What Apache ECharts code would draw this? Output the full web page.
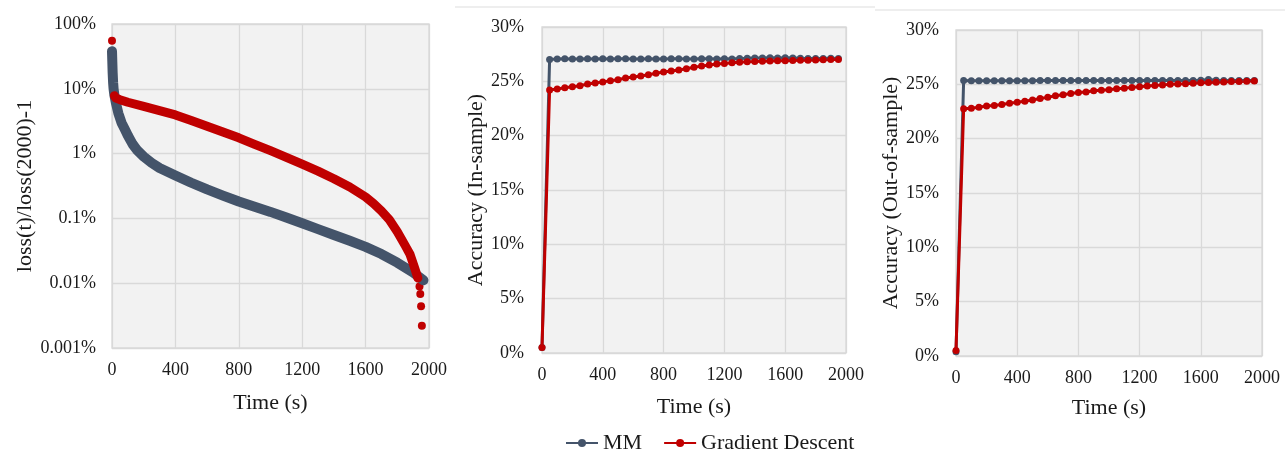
<!DOCTYPE html>
<html>
<head>
<meta charset="utf-8">
<script src="https://cdn.jsdelivr.net/npm/echarts@6.0.0/dist/echarts.min.js"></script>
<style>
  html, body { margin: 0; background: #fff; }
  #chart { width: 1285px; height: 451px; }
</style>
</head>
<body>
<div id="chart"></div>
<script>
// loss(t)/loss(2000)-1 in percent, [time, value]
const mmLoss = [[0, 38], [2, 26], [4, 18], [7, 12.5], [10, 10], [15, 8], [25, 6], [40, 4.2], [60, 3.0], [80, 2.4],
  [100, 1.9], [130, 1.4], [160, 1.12], [200, 0.9], [250, 0.72], [300, 0.6], [400, 0.46], [500, 0.355], [600, 0.28],
  [700, 0.225], [800, 0.182], [900, 0.151], [1000, 0.126], [1100, 0.103], [1200, 0.084], [1300, 0.0684], [1400, 0.0555],
  [1500, 0.0452], [1600, 0.0363], [1700, 0.0282], [1800, 0.0207], [1900, 0.0146], [1965, 0.0111]];
const gdLossHead = [[0, 55], [10, 10.5]];
const gdLoss = [[15, 7.8], [25, 7.2], [50, 6.8], [100, 6.2], [200, 5.35], [300, 4.6], [400, 3.95], [500, 3.25],
  [600, 2.65], [700, 2.15], [800, 1.75], [900, 1.39], [1000, 1.11], [1100, 0.877], [1200, 0.69], [1300, 0.537],
  [1400, 0.41], [1500, 0.305], [1600, 0.214], [1650, 0.17], [1700, 0.13], [1750, 0.095], [1800, 0.062], [1850, 0.038],
  [1880, 0.028], [1910, 0.017], [1930, 0.012]];
const gdLossTail = [[1940, 0.0089], [1945, 0.0068], [1950, 0.0044], [1955, 0.0022]];

// accuracy, sampled every 50 s
const accTimes = [0, 50, 100, 150, 200, 250, 300, 350, 400, 450,
  500, 550, 600, 650, 700, 750, 800, 850, 900, 950,
  1000, 1050, 1100, 1150, 1200, 1250, 1300, 1350, 1400, 1450,
  1500, 1550, 1600, 1650, 1700, 1750, 1800, 1850, 1900, 1950];
const mmInSample = [0.5, 27.0, 27.05, 27.08, 27.05, 27.05, 27.08, 27.05, 27.08, 27.05,
  27.08, 27.08, 27.05, 27.05, 27.08, 27.05, 27.05, 27.08, 27.08, 27.05,
  27.05, 27.08, 27.08, 27.05, 27.08, 27.05, 27.1, 27.12, 27.15, 27.15,
  27.18, 27.15, 27.18, 27.15, 27.12, 27.1, 27.1, 27.1, 27.12, 27.1];
const gdInSample = [0.5, 24.2, 24.3, 24.4, 24.5, 24.6, 24.75, 24.85, 24.95, 25.05,
  25.15, 25.3, 25.4, 25.5, 25.6, 25.75, 25.85, 25.95, 26.05, 26.15,
  26.3, 26.4, 26.5, 26.6, 26.65, 26.7, 26.75, 26.8, 26.82, 26.85,
  26.87, 26.9, 26.9, 26.92, 26.93, 26.95, 26.96, 26.98, 27.0, 27.02];
const mmOutSample = [0.4, 25.35, 25.33, 25.33, 25.32, 25.32, 25.32, 25.32, 25.32, 25.33,
  25.33, 25.35, 25.35, 25.35, 25.35, 25.35, 25.35, 25.35, 25.35, 25.35,
  25.35, 25.35, 25.35, 25.35, 25.35, 25.35, 25.35, 25.35, 25.35, 25.35,
  25.35, 25.35, 25.38, 25.45, 25.38, 25.35, 25.35, 25.35, 25.35, 25.35];
const gdOutSample = [0.5, 22.75, 22.8, 22.9, 23.0, 23.05, 23.15, 23.25, 23.35, 23.45,
  23.55, 23.7, 23.8, 23.95, 24.05, 24.15, 24.25, 24.3, 24.4, 24.45,
  24.5, 24.6, 24.65, 24.72, 24.78, 24.85, 24.9, 24.95, 25.0, 25.02,
  25.05, 25.1, 25.15, 25.18, 25.2, 25.22, 25.25, 25.27, 25.28, 25.3];

const BLUE = "#44546A";
const RED = "#C00000";
const FONT = "Liberation Serif";
const TEXT = "#1a1a1a";
const GRID = "#D9D9D9";

const pairs = (ys) => accTimes.map((t, i) => [t, ys[i]]);

const chart = echarts.init(document.getElementById("chart"));

function xAxisFor(gridIndex, gap) {
  return {
    type: "value", gridIndex: gridIndex, min: 0, max: 2000, interval: 400,
    name: "Time (s)", nameLocation: "middle", nameGap: gap,
    nameTextStyle: { fontFamily: FONT, fontSize: 22, color: TEXT },
    axisLine: { show: false }, axisTick: { show: false },
    axisLabel: { margin: 13, fontFamily: FONT, fontSize: 18, color: TEXT, formatter: (v) => String(v) },
    splitLine: { show: true, lineStyle: { color: GRID, width: 1.3 } },
  };
}

function accYAxis(gridIndex, title, gap, margin) {
  return {
    type: "value", gridIndex: gridIndex, min: 0, max: 30, interval: 5,
    name: title, nameLocation: "middle", nameGap: gap,
    nameTextStyle: { fontFamily: FONT, fontSize: 22, color: TEXT },
    axisLine: { show: false }, axisTick: { show: false },
    axisLabel: { margin: margin, fontFamily: FONT, fontSize: 18, color: TEXT, formatter: "{value}%" },
    splitLine: { show: true, lineStyle: { color: GRID, width: 1.3 } },
  };
}

function accSeries(name, color, xi, data) {
  return {
    name: name, type: "line", xAxisIndex: xi, yAxisIndex: xi, data: data,
    symbol: "circle", symbolSize: 7, showAllSymbol: true,
    itemStyle: { color: color }, lineStyle: { color: color, width: 3 },
  };
}

const gridBox = { show: true, backgroundColor: "#F2F2F2", borderColor: GRID, borderWidth: 1.3 };

chart.setOption({
  animation: false,
  grid: [
    Object.assign({ left: 112, top: 24, width: 317, height: 324 }, gridBox),
    Object.assign({ left: 542, top: 27, width: 304, height: 326 }, gridBox),
    Object.assign({ left: 956, top: 30, width: 306, height: 326 }, gridBox),
  ],
  xAxis: [xAxisFor(0, 44), xAxisFor(1, 43), xAxisFor(2, 41)],
  yAxis: [
    {
      type: "log", logBase: 10, gridIndex: 0, min: 0.001, max: 100,
      name: "loss(t)/loss(2000)-1", nameLocation: "middle", nameGap: 73,
      nameTextStyle: { fontFamily: FONT, fontSize: 22, color: TEXT },
      axisLine: { show: false }, axisTick: { show: false },
      axisLabel: {
        margin: 16, fontFamily: FONT, fontSize: 18, color: TEXT,
        formatter: (v) => +v.toPrecision(1) + "%",
      },
      splitLine: { show: true, lineStyle: { color: GRID, width: 1.3 } },
    },
    accYAxis(1, "Accuracy (In-sample)", 53, 18),
    accYAxis(2, "Accuracy (Out-of-sample)", 54, 17),
  ],
  legend: {
    data: ["MM", "Gradient Descent"],
    left: 560, top: 427, itemWidth: 32, itemHeight: 10, itemGap: 21,
    textStyle: { fontFamily: FONT, fontSize: 22, color: TEXT },
  },
  graphic: [
    { type: "line", shape: { x1: 455, y1: 7, x2: 875, y2: 7 }, style: { stroke: "#DDDDDD", lineWidth: 1.2 } },
    { type: "line", shape: { x1: 875, y1: 10, x2: 1285, y2: 10 }, style: { stroke: "#DDDDDD", lineWidth: 1.2 } },
  ],
  series: [
    accSeries("MM", BLUE, 1, pairs(mmInSample)),
    accSeries("Gradient Descent", RED, 1, pairs(gdInSample)),
    accSeries("MM", BLUE, 2, pairs(mmOutSample)),
    accSeries("Gradient Descent", RED, 2, pairs(gdOutSample)),
    {
      name: "MM", type: "line", xAxisIndex: 0, yAxisIndex: 0, data: mmLoss, symbol: "none",
      lineStyle: { color: BLUE, width: 10, cap: "round", join: "round" }, itemStyle: { color: BLUE },
    },
    {
      name: "Gradient Descent", type: "line", xAxisIndex: 0, yAxisIndex: 0, data: gdLoss, symbol: "none",
      lineStyle: { color: RED, width: 9, cap: "round", join: "round" }, itemStyle: { color: RED },
    },
    {
      name: "Gradient Descent", type: "scatter", xAxisIndex: 0, yAxisIndex: 0,
      data: gdLossHead.concat(gdLossTail), symbolSize: 8, itemStyle: { color: RED, opacity: 1 },
    },
  ],
});
</script>
</body>
</html>
